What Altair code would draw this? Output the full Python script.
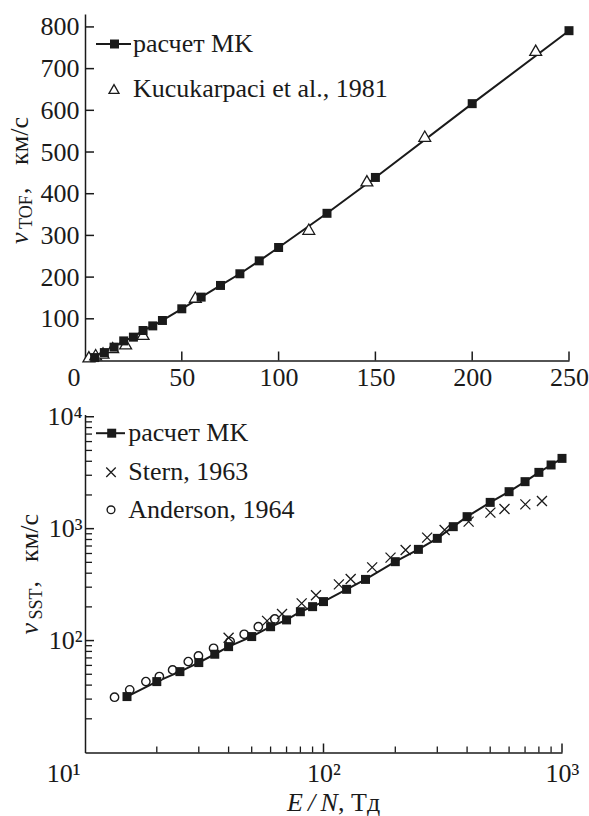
import altair as alt
import pandas as pd

# ---------------- data: top panel (v_TOF) ----------------
mc_top_x = [5, 10, 15, 20, 25, 30, 35, 40, 50, 60, 70, 80, 90, 100, 125, 150, 200, 250]
mc_top_y = [7, 19, 32, 47, 56, 72, 83, 96, 124, 152, 180, 208, 239, 271, 353, 439, 616, 791]
kuc_x = [2, 5.5, 9.3, 14.3, 21, 30, 57, 115.6, 145.6, 175.5, 232.8]
kuc_y = [9, 14, 18, 31, 40, 63, 152, 315, 431, 538, 744]
top_x_ticks = [0, 50, 100, 150, 200, 250]
top_y_ticks = [100, 200, 300, 400, 500, 600, 700, 800]

# ---------------- data: bottom panel (v_SST) ----------------
mc_bot_x = [15, 20, 25, 30, 35, 40, 50, 60, 70, 80, 90, 100, 125, 150, 200, 250,
            300, 350, 400, 500, 600, 700, 800, 900, 1000]
mc_bot_y = [31.6, 43, 52.8, 63.6, 75.5, 88.3, 108.6, 133, 153, 181, 201, 223, 287, 352,
            507, 653, 819, 1042, 1280, 1717, 2140, 2630, 3183, 3706, 4244]
stern_x = [40, 58, 67, 81, 93, 116, 130, 160, 191, 221, 272, 322, 406, 501, 574, 702, 824]
stern_y = [106, 150, 173, 215, 254, 318, 355, 451, 551, 645, 831, 973, 1155, 1390, 1500, 1648, 1767]
and_x = [13.3, 15.4, 18.0, 20.5, 23.3, 27.1, 29.9, 34.6, 40.6, 46.5, 53.3, 62.5]
and_y = [31.2, 36.3, 43, 47.7, 54.7, 64.9, 73, 85.3, 98, 113.8, 133, 156]
log_major_x = [10, 100, 1000]
log_minor_x = [20, 30, 40, 50, 60, 70, 80, 90, 200, 300, 400, 500, 600, 700, 800, 900]
log_major_y = [100, 1000, 10000]
log_minor_y = [20, 30, 40, 50, 60, 70, 80, 90, 200, 300, 400, 500, 600, 700, 800, 900,
               2000, 3000, 4000, 5000, 6000, 7000, 8000, 9000]

FONT = "Liberation Serif, Times New Roman, serif"
INK = "#1a1a1a"
FS = 26

W1, H1 = 484, 346.5
W2, H2 = 477, 338


def axis(values, orient_x, pad, label_expr=None, first=None):
    kw = dict(values=values, title=None, ticks=False, grid=False, domainColor=INK,
              domainWidth=1.5, labelFont=FONT, labelFontSize=FS, labelColor=INK,
              labelPadding=pad, labelFlush=False)
    if label_expr:
        kw["labelExpr"] = label_expr
    if orient_x:
        kw["labelAlign"] = {"condition": {"test": f"datum.value == {first}", "value": "right"},
                            "value": "center"}
        kw["labelOffset"] = {"condition": {"test": f"datum.value == {first}", "value": -5},
                             "value": 0}
    else:
        kw["labelBaseline"] = "middle"
    return alt.Axis(**kw)


def txt(s, x, y, size=FS, angle=0, align="left", baseline="alphabetic", style="normal"):
    return alt.Chart(pd.DataFrame({"t": [s]})).mark_text(
        font=FONT, fontSize=size, angle=angle, align=align, baseline=baseline,
        fontStyle=style, color=INK
    ).encode(text="t:N", x=alt.value(x), y=alt.value(y))


def sym(x, y, **mk):
    return alt.Chart(pd.DataFrame({"a": [0]})).mark_point(**mk).encode(
        x=alt.value(x), y=alt.value(y))


def hline(x1, x2, y):
    return alt.Chart(pd.DataFrame({"a": [0]})).mark_rule(color=INK, strokeWidth=2).encode(
        x=alt.value(x1), x2=alt.value(x2), y=alt.value(y))


CROSS = "M-1,-1L1,1M-1,1L1,-1"

# ---------------- top panel ----------------
xs1 = alt.Scale(domain=[0, 250], nice=False, zero=False)
ys1 = alt.Scale(domain=[0, 831], nice=False, zero=False)
xa1 = axis(top_x_ticks, True, 4, first=0)
ya1 = axis(top_y_ticks, False, 6)
X1 = alt.X("x:Q", scale=xs1, axis=xa1)
Y1 = alt.Y("y:Q", scale=ys1, axis=ya1)

mc1 = pd.DataFrame({"x": mc_top_x, "y": mc_top_y})
kuc = pd.DataFrame({"x": kuc_x, "y": kuc_y})

top_layers = [
    alt.Chart(mc1).mark_line(color=INK, strokeWidth=2).encode(x=X1, y=Y1),
    alt.Chart(kuc).mark_point(shape="triangle-up", filled=True, fill="white", stroke=INK,
                              strokeWidth=1.3, size=140, opacity=1).encode(x=X1, y=Y1),
    alt.Chart(mc1).mark_point(shape="square", filled=True, color=INK, size=81,
                              opacity=1).encode(x=X1, y=Y1),
    alt.Chart(pd.DataFrame({"x": top_x_ticks[1:]})).mark_rule(color=INK, strokeWidth=1.5)
    .encode(x=X1, y=alt.value(H1), y2=alt.value(H1 - 9)),
    alt.Chart(pd.DataFrame({"y": top_y_ticks})).mark_rule(color=INK, strokeWidth=1.5)
    .encode(y=Y1, x=alt.value(0), x2=alt.value(9)),
    # legend
    hline(11, 46, 30),
    sym(29.5, 30, shape="square", filled=True, color=INK, size=81, opacity=1),
    txt("расчет MK", 48, 30, baseline="middle"),
    sym(29, 75, shape="triangle-up", filled=True, fill="white", stroke=INK,
        strokeWidth=1.3, size=100, opacity=1),
    txt("Kucukarpaci et al., 1981", 48, 75, baseline="middle"),
    # y title
    txt("v", -57, 230, angle=270, style="italic"),
    txt("TOF", -53, 215, size=18, angle=270),
    txt(",", -57, 180, angle=270),
    txt("км/с", -57, 127, angle=270, align="center"),
]
top = alt.layer(*top_layers).properties(width=W1, height=H1)

# ---------------- bottom panel ----------------
xs2 = alt.Scale(type="log", domain=[10, 1000], nice=False)
ys2 = alt.Scale(type="log", domain=[10, 10471], nice=False)
xa2 = axis(log_major_x, True, 8,
           label_expr="datum.value == 10 ? '10¹' : datum.value == 100 ? '10²' : '10³'",
           first=10)
ya2 = axis(log_major_y, False, 3,
           label_expr="datum.value == 10000 ? '10⁴' : datum.value == 1000 ? '10³' : '10²'")
X2 = alt.X("x:Q", scale=xs2, axis=xa2)
Y2 = alt.Y("y:Q", scale=ys2, axis=ya2)

mc2 = pd.DataFrame({"x": mc_bot_x, "y": mc_bot_y})
stern = pd.DataFrame({"x": stern_x, "y": stern_y})
anders = pd.DataFrame({"x": and_x, "y": and_y})

bot_layers = [
    alt.Chart(mc2).mark_line(color=INK, strokeWidth=2).encode(x=X2, y=Y2),
    alt.Chart(anders).mark_point(shape="circle", filled=True, fill="white", stroke=INK,
                                 strokeWidth=1.4, size=70, opacity=1).encode(x=X2, y=Y2),
    alt.Chart(mc2).mark_point(shape="square", filled=True, color=INK, size=81,
                              opacity=1).encode(x=X2, y=Y2),
    alt.Chart(stern).mark_point(shape=CROSS, filled=False, stroke=INK, strokeWidth=1.3,
                                size=100, opacity=1).encode(x=X2, y=Y2),
    alt.Chart(pd.DataFrame({"x": log_major_x[1:]})).mark_rule(color=INK, strokeWidth=1.5)
    .encode(x=X2, y=alt.value(H2), y2=alt.value(H2 - 9)),
    alt.Chart(pd.DataFrame({"x": log_minor_x})).mark_rule(color=INK, strokeWidth=1.3)
    .encode(x=X2, y=alt.value(H2), y2=alt.value(H2 - 6)),
    alt.Chart(pd.DataFrame({"y": log_major_y})).mark_rule(color=INK, strokeWidth=1.5)
    .encode(y=Y2, x=alt.value(0), x2=alt.value(9)),
    alt.Chart(pd.DataFrame({"y": log_minor_y})).mark_rule(color=INK, strokeWidth=1.3)
    .encode(y=Y2, x=alt.value(0), x2=alt.value(7)),
    # legend
    hline(11, 40, 18.7),
    sym(26.7, 18.7, shape="square", filled=True, color=INK, size=81, opacity=1),
    txt("расчет MK", 43.3, 18.7, baseline="middle"),
    sym(26, 57.7, shape=CROSS, filled=False, stroke=INK, strokeWidth=1.3, size=90, opacity=1),
    txt("Stern, 1963", 43.3, 57.7, baseline="middle"),
    sym(26, 95.3, shape="circle", filled=True, fill="white", stroke=INK, strokeWidth=1.4,
        size=60, opacity=1),
    txt("Anderson, 1964", 43.3, 95.3, baseline="middle"),
    # y title
    txt("v", -47, 220, angle=270, style="italic"),
    txt("SST", -43, 205, size=18, angle=270),
    txt(",", -47, 173, angle=270),
    txt("км/с", -47, 123.5, angle=270, align="center"),
    # x title
    txt("E\u2009/\u2009N", 202, 396, style="italic"),
    txt(", Тд", 253, 396),
]
bottom = alt.layer(*bot_layers).properties(width=W2, height=H2)

chart = alt.vconcat(top, bottom, spacing=53.5, bounds="flush").properties(
    padding={"left": 7, "top": 13, "right": 0, "bottom": 0},
    background="white",
).configure_view(stroke=None)

chart.save("out.html", embed_options={"renderer": "svg", "actions": False})
